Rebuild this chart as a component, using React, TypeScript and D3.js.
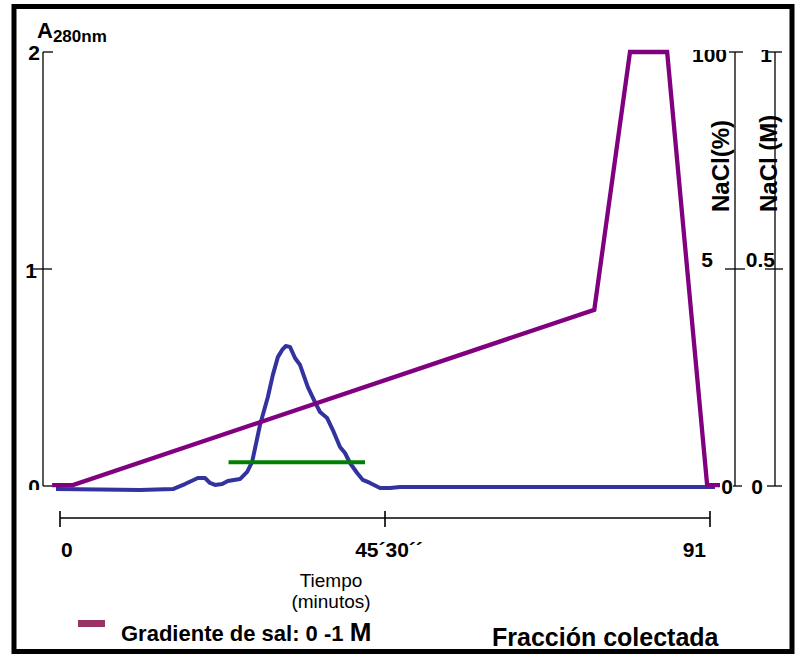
import React from "react";
import * as d3 from "d3";

// Absorbance at 280 nm along the elution (fraction units 0..91)
const absFraction = [-0.56, 5.6, 11.2, 15.8, 17.5, 19.3, 20.3, 21.0, 21.7, 22.7, 23.5, 25.2, 26.2, 26.9, 28.0, 29.1, 29.8, 30.5, 31.1, 31.6, 32.2, 32.9, 33.6, 34.7, 35.7, 36.4, 37.4, 38.2, 39.2, 39.9, 40.6, 41.6, 42.4, 43.4, 44.8, 46.2, 47.6, 75.6, 91.7];
const absValue = [-0.014, -0.016, -0.018, -0.014, 0.009, 0.037, 0.037, 0.014, 0.005, 0.009, 0.023, 0.032, 0.065, 0.111, 0.281, 0.41, 0.512, 0.594, 0.627, 0.645, 0.641, 0.59, 0.558, 0.456, 0.387, 0.341, 0.313, 0.258, 0.18, 0.152, 0.106, 0.06, 0.028, 0.014, -0.009, -0.009, -0.005, -0.005, -0.005];

// NaCl gradient (%)
const saltFraction = [-1.1, 1.8, 74.8, 79.8, 85.0, 90.6, 92.4];
const saltPercent = [0.2, 0.2, 40.6, 100, 100, 0.2, 0.2];

// Pooled fractions bar
const poolFraction = [23.6, 42.7];
const poolLevel = 0.11;

// Axis ticks
const absTicks = [0, 1, 2];
const absTickLabels = ["0", "1", "2"];
const pctTicks = [0, 50, 100];
const pctTickLabels = ["0", "5", "100"];
const molTicks = [0, 0.5, 1];
const molTickLabels = ["0", "0.5", "1"];
const timeTicks = [0, 45.5, 91];
const timeTickLabels = ["0", "45´30´´", "91"];

const FONT = "'Liberation Sans', Arial, Helvetica, sans-serif";

export default function App() {
  const W = 795;
  const H = 655;
  const x = d3.scaleLinear().domain([0, 91]).range([60, 710]);
  const yAbs = d3.scaleLinear().domain([0, 2]).range([486, 52]);
  const yPct = d3.scaleLinear().domain([0, 100]).range([486, 52]);
  const yMol = d3.scaleLinear().domain([0, 1]).range([486, 52]);

  const absLine = d3
    .line<number>()
    .x((_, i) => x(absFraction[i]))
    .y((d) => yAbs(d))
    .curve(d3.curveLinear)(absValue) as string;

  const saltLine = d3
    .line<number>()
    .x((_, i) => x(saltFraction[i]))
    .y((d) => yPct(d))(saltPercent) as string;

  const leftX = 43;
  const pctX = 735;
  const molX = 775;

  // tick extents [left, right] and label placement per tick index
  const absTickExt = [[0, 10], [10, 9], [0, 10]];
  const absLabelGap = [3, 6, 3];
  const absLabelDy = [8, 9, 8];
  const pctTickExt = [[2, 7], [10, 10], [6, 8]];
  const pctLabelGap = [2, 22, 8];
  const pctLabelDy = [8, -2, 10];
  const molTickExt = [[8, 7], [10, 8], [7, 7]];
  const molLabelGap = [12, 0, 3];
  const molLabelDy = [8, -2, 10];
  const timeAnchor = ["start", "middle", "end"];
  const timeDx = [1, 4, -4];

  const purple = "#800080";
  const blue = "#3333a0";

  return (
    <svg
      width={W}
      height={H}
      style={{ position: "absolute", left: 0, top: 0, background: "#fff" }}
      fontFamily={FONT}
    >
      <defs>
        <clipPath id="clipBottom">
          <rect x={0} y={0} width={W} height={490} />
        </clipPath>
        <clipPath id="clipTop">
          <rect x={0} y={50} width={W} height={H} />
        </clipPath>
      </defs>
      <rect x={0} y={0} width={W} height={H} fill="#fff" />

      {/* title of the absorbance axis */}
      <text x={37} y={38} fontSize={22} fontWeight="bold">
        A
        <tspan fontSize={17} dy={4}>280nm</tspan>
      </text>

      {/* absorbance axis */}
      <line x1={leftX} x2={leftX} y1={yAbs(2)} y2={yAbs(0)} stroke="#000" strokeWidth={1.3} />
      {absTicks.map((t, i) => (
        <g key={"a" + t}>
          <line x1={leftX - absTickExt[i][0]} x2={leftX + absTickExt[i][1]} y1={yAbs(t)} y2={yAbs(t)} stroke="#000" strokeWidth={1.3} />
          <text
            x={leftX - absLabelGap[i]}
            y={yAbs(t) + absLabelDy[i]}
            textAnchor="end"
            fontSize={21}
            fontWeight="bold"
            clipPath={i === 0 ? "url(#clipBottom)" : undefined}
          >
            {absTickLabels[i]}
          </text>
        </g>
      ))}

      {/* NaCl % axis */}
      <line x1={pctX} x2={pctX} y1={yPct(100)} y2={yPct(0)} stroke="#000" strokeWidth={1.3} />
      {pctTicks.map((t, i) => (
        <g key={"p" + t}>
          <line x1={pctX - pctTickExt[i][0]} x2={pctX + pctTickExt[i][1]} y1={yPct(t)} y2={yPct(t)} stroke="#000" strokeWidth={1.3} />
          <text
            x={pctX - pctLabelGap[i]}
            y={yPct(t) + pctLabelDy[i]}
            textAnchor="end"
            fontSize={21}
            fontWeight="bold"
            clipPath={i === 2 ? "url(#clipTop)" : undefined}
          >
            {pctTickLabels[i]}
          </text>
        </g>
      ))}

      {/* NaCl molar axis */}
      <line x1={molX} x2={molX} y1={yMol(1)} y2={yMol(0)} stroke="#000" strokeWidth={1.3} />
      {molTicks.map((t, i) => (
        <g key={"m" + t}>
          <line x1={molX - molTickExt[i][0]} x2={molX + molTickExt[i][1]} y1={yMol(t)} y2={yMol(t)} stroke="#000" strokeWidth={1.3} />
          <text
            x={molX - molLabelGap[i]}
            y={yMol(t) + molLabelDy[i]}
            textAnchor="end"
            fontSize={21}
            fontWeight="bold"
            clipPath={i === 2 ? "url(#clipTop)" : undefined}
          >
            {molTickLabels[i]}
          </text>
        </g>
      ))}

      <text transform="translate(729,212) rotate(-90)" fontSize={24} fontWeight="bold">NaCl(%)</text>
      <text transform="translate(777,212) rotate(-90)" fontSize={24} fontWeight="bold">NaCl (M)</text>

      {/* curves */}
      <path d={absLine} fill="none" stroke={blue} strokeWidth={4} strokeLinejoin="round" />
      <path d={saltLine} fill="none" stroke={purple} strokeWidth={4.3} strokeLinejoin="miter" />
      <line
        x1={x(poolFraction[0])}
        x2={x(poolFraction[1])}
        y1={yAbs(poolLevel)}
        y2={yAbs(poolLevel)}
        stroke="#008000"
        strokeWidth={4}
      />

      {/* time axis */}
      <line x1={x(0)} x2={x(91)} y1={518} y2={518} stroke="#000" strokeWidth={1.6} />
      {timeTicks.map((t, i) => (
        <g key={"t" + t}>
          <line x1={x(t)} x2={x(t)} y1={511} y2={527} stroke="#000" strokeWidth={1.6} />
          <text
            x={x(t) + timeDx[i]}
            y={557}
            textAnchor={timeAnchor[i] as any}
            fontSize={21}
            fontWeight="bold"
          >
            {timeTickLabels[i]}
          </text>
        </g>
      ))}
      <text x={331} y={587} textAnchor="middle" fontSize={19}>Tiempo</text>
      <text x={331} y={608} textAnchor="middle" fontSize={19}>(minutos)</text>

      {/* legend */}
      <rect x={78} y={620} width={27} height={7} fill="#993366" />
      <text x={121} y={641} fontSize={22} fontWeight="bold">
        Gradiente de sal: 0 -1 <tspan fontSize={26}>M</tspan>
      </text>
      <text x={492} y={646} fontSize={25} fontWeight="bold">Fracción colectada</text>

      {/* frame */}
      <rect x={14} y={6.5} width={778} height={645} fill="none" stroke="#000" strokeWidth={5} />
    </svg>
  );
}
